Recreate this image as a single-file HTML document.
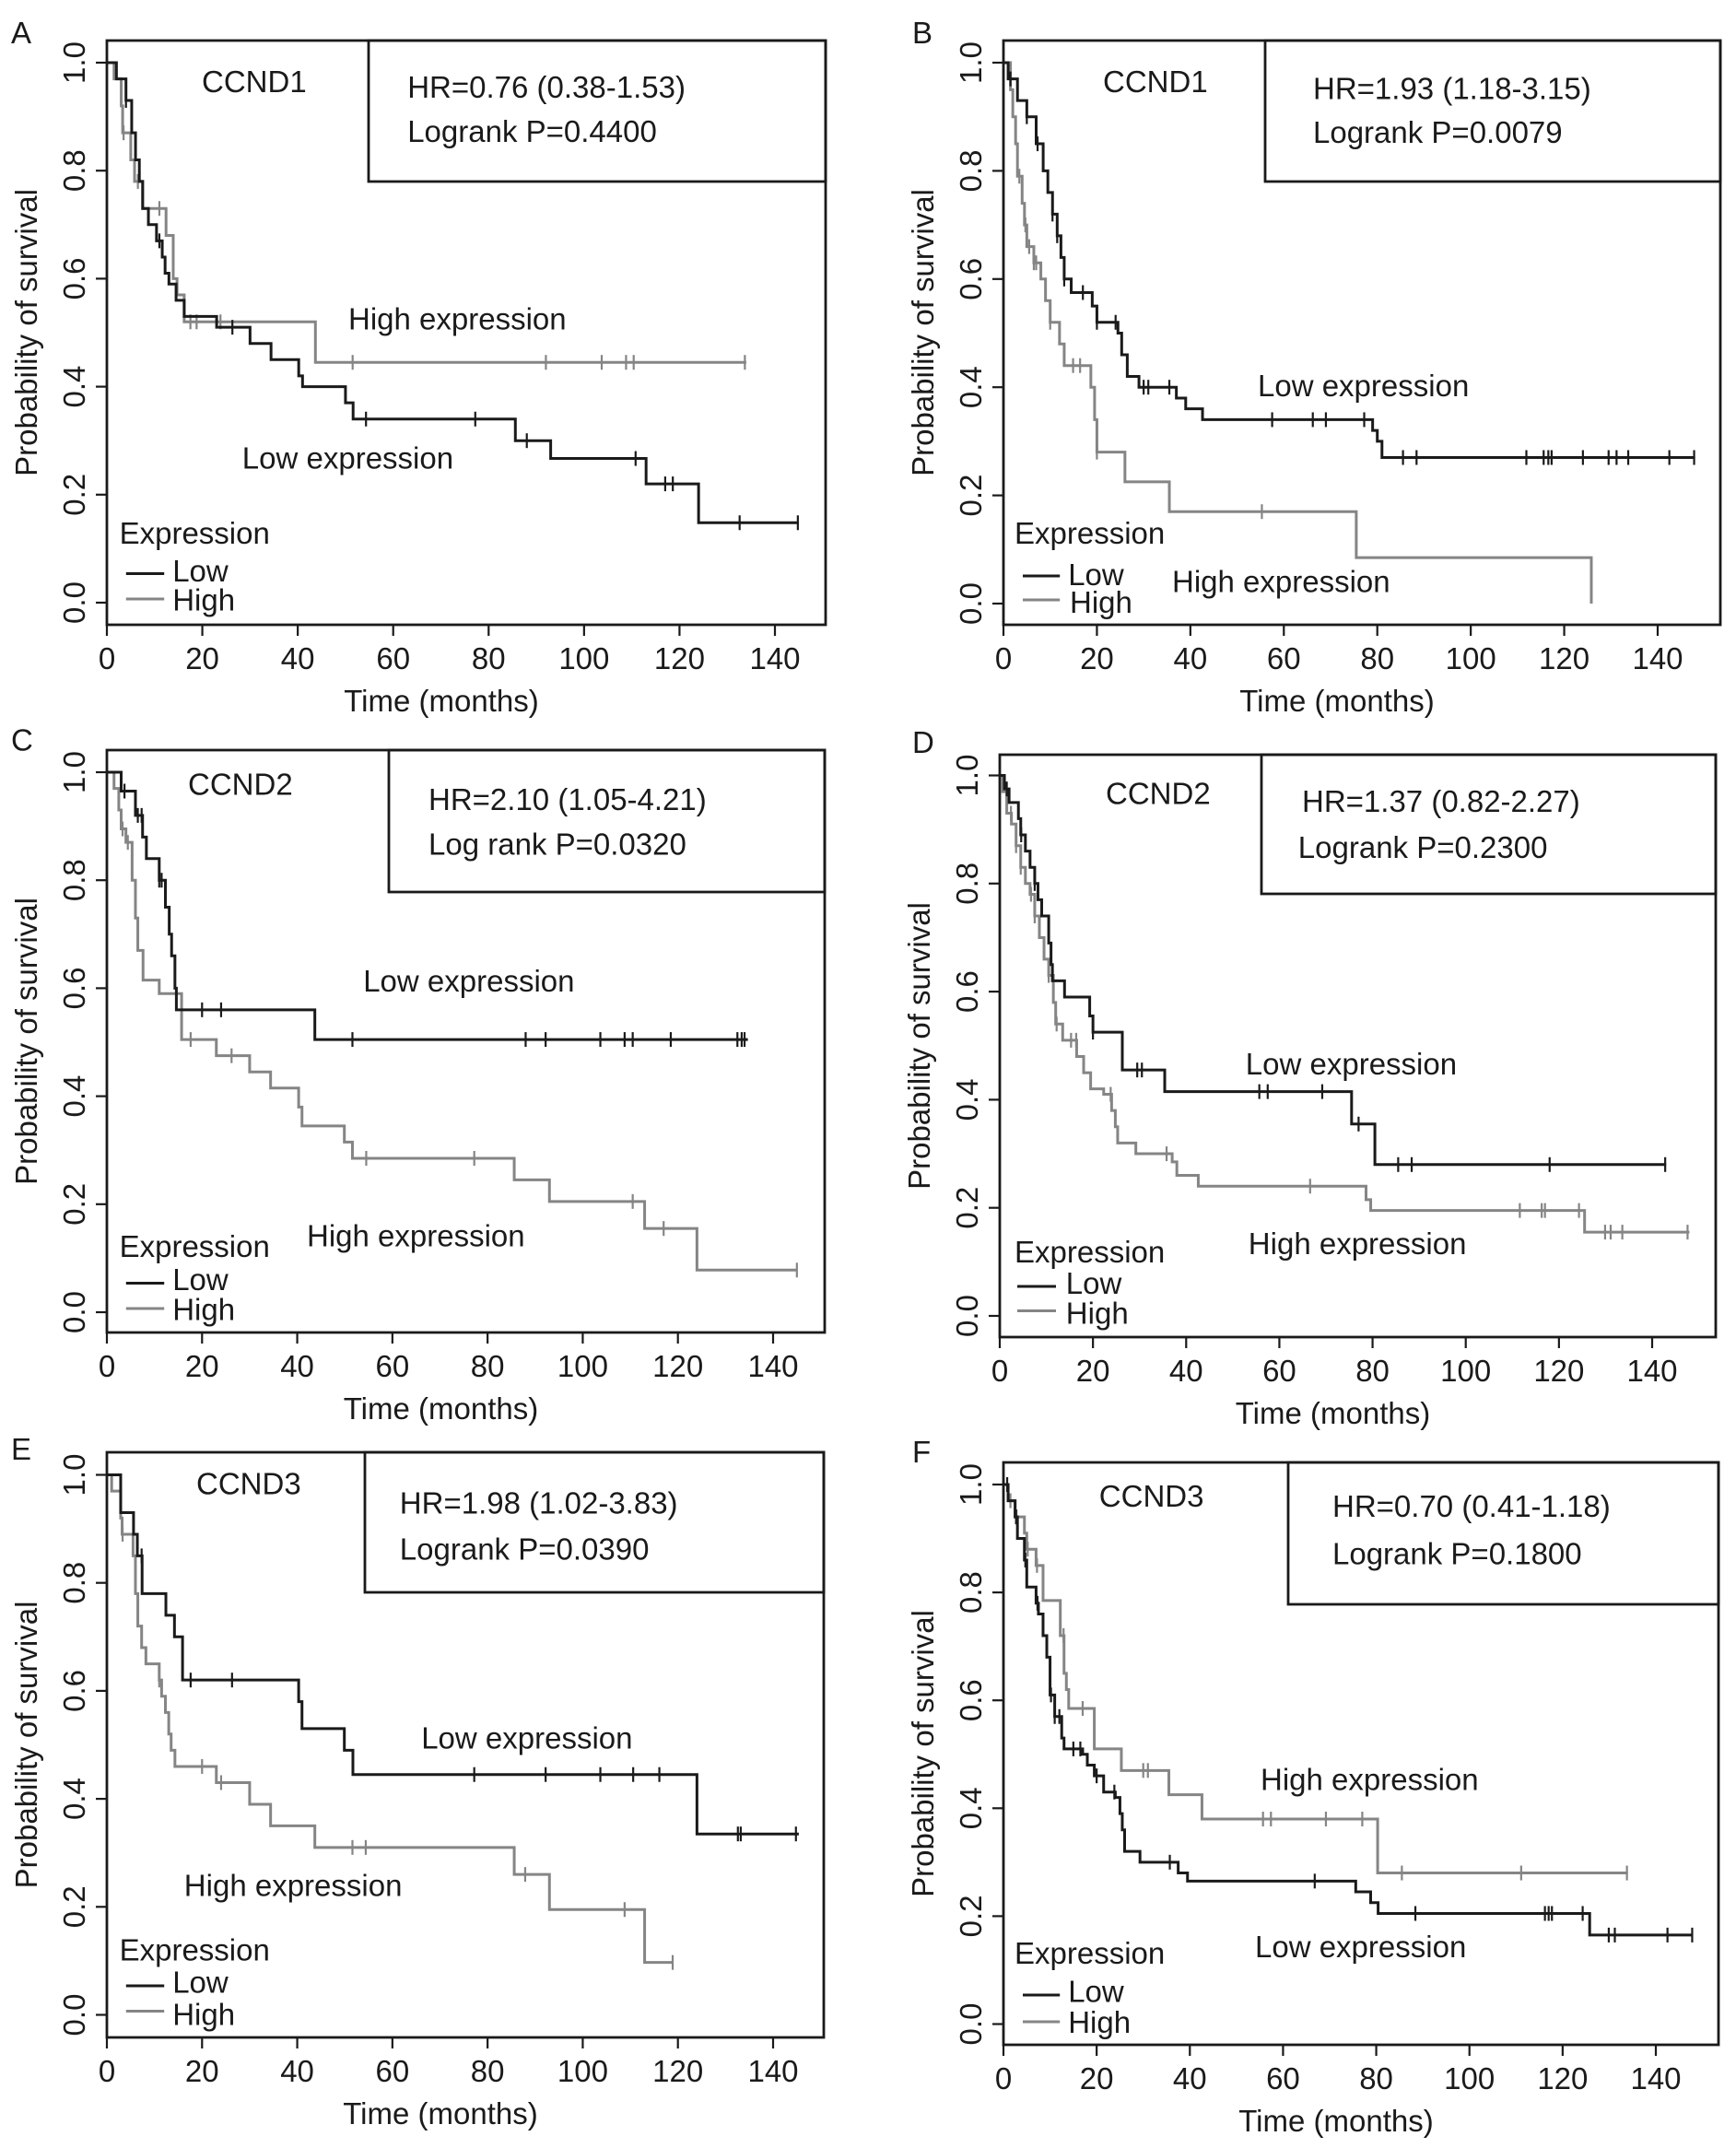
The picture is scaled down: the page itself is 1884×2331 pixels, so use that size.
<!DOCTYPE html>
<html><head><meta charset="utf-8"><style>
html,body{margin:0;padding:0;background:#fff}
svg{display:block}
text{font-family:"Liberation Sans",Arial,sans-serif;font-size:33px;fill:#1a1a1a}
</style></head><body>
<svg id="fig" width="1884" height="2331" viewBox="0 0 1884 2331" xmlns="http://www.w3.org/2000/svg"></svg>
<script>
const xTicks=[0,20,40,60,80,100,120,140];
const yTicks=[0,0.2,0.4,0.6,0.8,1.0];
// Panel A
const aLowTimes=[2,4,5.2,6,6.8,7.5,8.7,10.4,11.6,12.2,13,14.5,16.2,23,30,34.4,40.2,41,50,51.6,85.6,93,113,124];
const aLowSurv=[0.97,0.93,0.87,0.82,0.78,0.73,0.70,0.67,0.64,0.61,0.59,0.56,0.53,0.51,0.48,0.45,0.42,0.40,0.37,0.34,0.30,0.267,0.22,0.148];
const aLowCens=[4,11,26.3,54.3,77.2,88,110.8,117,118.6,132.6,144.8];
const aHighTimes=[1.5,3,3.3,5,5.8,7.5,12.4,13.9,14.7,16.2,43.7];
const aHighSurv=[0.97,0.92,0.87,0.82,0.78,0.73,0.68,0.60,0.57,0.52,0.445];
const aHighCens=[3.5,6.5,11,17.5,18.8,23.8,51.5,92,103.7,108.8,110.4,133.7];
// Panel B
const bLowTimes=[1,3,5,7,8.5,9.5,10.5,11.5,12.3,13,14.5,19,20,24.5,25.3,26.5,29,37,39,42.6,79,80,81];
const bLowSurv=[0.97,0.93,0.90,0.85,0.80,0.76,0.72,0.68,0.64,0.60,0.575,0.55,0.52,0.50,0.46,0.42,0.40,0.38,0.36,0.34,0.32,0.30,0.27];
const bLowCens=[1.5,5,7.3,10.5,11.5,13,17,20,24,30,31,35.5,57.5,66.2,69,77.2,85.5,88.4,111.9,115.6,116.6,117.3,124,129.5,131.2,133.7,142.5,147.8];
const bHighTimes=[1.5,2,2.6,3,4,4.5,5,6.5,8,9,10,12,13,18.7,19.5,20,26,35.5,75.5,125.8];
const bHighSurv=[0.95,0.90,0.85,0.79,0.74,0.70,0.66,0.63,0.60,0.56,0.52,0.48,0.44,0.40,0.34,0.28,0.225,0.17,0.085,0.0];
const bHighCens=[3.4,4.7,5.5,6.5,7,10,14.9,16.4,20,55.3];
// Panel C
const cLowTimes=[3,6,7.5,8.3,11,12.3,13.1,13.6,14.3,14.6,43.7];
const cLowSurv=[0.965,0.92,0.88,0.84,0.80,0.75,0.70,0.66,0.60,0.56,0.505];
const cLowCens=[3.7,6.5,7.3,11,11.5,20,24,51.6,88,92.2,103.7,108.8,110.5,118.5,132.5,133.4,134];
const cHighTimes=[1.5,2.5,3,4,5.3,6,6.5,7.6,11,15.7,23,30,34.4,40.3,41,49.9,51.6,85.6,93,113,124];
const cHighSurv=[0.97,0.93,0.895,0.87,0.80,0.73,0.67,0.615,0.59,0.505,0.475,0.445,0.415,0.38,0.345,0.315,0.285,0.245,0.205,0.155,0.078];
const cHighCens=[3.3,4.4,17.6,26.2,54.5,77.2,110.5,117,145];
// Panel D
const dLowTimes=[1,2,4,4.5,5.5,6.5,7.5,8.2,9,10.5,11,11.3,13.9,19.3,20,26.3,35.4,75.5,80.5];
const dLowSurv=[0.975,0.95,0.92,0.89,0.86,0.83,0.80,0.77,0.74,0.69,0.65,0.62,0.59,0.555,0.525,0.455,0.415,0.355,0.28];
const dLowCens=[1.5,4.6,7.5,20,29.5,30.5,55.7,57.5,69.2,77,85.5,88.4,118,142.8];
const dHighTimes=[0.5,1.5,2.5,3.5,4.5,5.5,6.5,7.5,8.5,9.5,10.5,11.5,12,13.5,16.5,18,19.5,22.3,24,24.8,25.3,29.2,37,38,42.6,78.6,79.6,125.5];
const dHighSurv=[0.97,0.93,0.91,0.87,0.83,0.80,0.78,0.74,0.70,0.66,0.63,0.58,0.54,0.51,0.48,0.45,0.42,0.41,0.38,0.35,0.32,0.30,0.285,0.26,0.24,0.215,0.195,0.155];
const dHighCens=[2.4,3.5,4.5,6.7,7.5,10.5,12.2,15.3,16.4,23.8,35.8,66.6,111.6,116.3,117,124.3,129.9,131.1,133.6,147.6];
// Panel E
const eLowTimes=[2.9,5.6,6.4,7.4,12.4,14.2,15.9,40.3,41,49.9,51.7,124];
const eLowSurv=[0.93,0.89,0.85,0.78,0.74,0.70,0.62,0.58,0.53,0.49,0.445,0.335];
const eLowCens=[7.3,17.6,26.3,77.2,92.2,103.7,110.6,116.1,132.6,133.2,144.8];
const eHighTimes=[1,2.9,3.2,5.5,6,6.5,7.3,8.2,11,11.5,12.3,13,13.5,14.3,23,30,34.4,43.7,85.6,93,113];
const eHighSurv=[0.97,0.92,0.89,0.85,0.78,0.72,0.68,0.65,0.62,0.59,0.56,0.52,0.49,0.46,0.43,0.39,0.35,0.31,0.26,0.195,0.097];
const eHighCens=[3.3,11,20,24,51.6,54.4,87.9,108.8,118.9];
// Panel F
const fLowTimes=[1,2.5,3,4.5,5,7,7.5,8.5,9.3,10,11,12.5,13,17,18,19.5,21.5,24,25,25.5,26,29.3,37.5,39.5,75.6,78.8,80.4,125.8];
const fLowSurv=[0.97,0.94,0.90,0.86,0.81,0.78,0.76,0.72,0.68,0.61,0.57,0.53,0.51,0.50,0.48,0.46,0.43,0.42,0.39,0.36,0.32,0.30,0.28,0.265,0.245,0.225,0.205,0.165];
const fLowCens=[0.8,2.7,4.7,7.3,10.2,11,12,15,16.5,20,23.8,35.7,66.8,88.4,116.2,117,117.7,124.3,129.9,131.2,142.5,147.8];
const fHighTimes=[1,2.5,4.5,5,7,8.5,12.2,13,13.5,14,19.5,25.3,35.5,42.6,80.3];
const fHighSurv=[0.97,0.94,0.91,0.88,0.85,0.785,0.72,0.65,0.62,0.585,0.51,0.47,0.425,0.38,0.28];
const fHighCens=[1.5,2.8,5.2,7.2,12.9,17,30,31,55.7,57.4,69.2,77,85.5,111.1,133.8];
const lowEnds=[145,148,134.7,143,145.4,148];
const highEnds=[134,125.8,145,148,119,134];

const NS='http://www.w3.org/2000/svg';
const svg=document.getElementById('fig');
const LOW='#1a1a1a', HIGH='#858585';
function mk(tag,attrs,parent){const e=document.createElementNS(NS,tag);for(const k in attrs)e.setAttribute(k,attrs[k]);(parent||svg).appendChild(e);return e;}
function txt(s,x,y,parent,extra){const t=mk('text',Object.assign({x:x,y:y},extra||{}),parent);t.textContent=s;return t;}

const panels=[
 {id:'a',letter:'A',gene:'CCND1',hr:'HR=0.76 (0.38-1.53)',p:'Logrank P=0.4400',ox:0,oy:0,box:[116,44,896,678],x0:116,x140:841,y1:68,y0:654,leg:[400,197],
  gz:[365,200],hrz:[737,212],pz:[737,308],hiz:[630,715],loz:[438,1017],exz:[216,1180],lowz:[312,1262],highz:[312,1325],lnz:[228,297,1245,1300],letz:[20,70],lowT:aLowTimes,lowS:aLowSurv,lowC:aLowCens,highT:aHighTimes,highS:aHighSurv,highC:aHighCens},
 {id:'b',letter:'B',gene:'CCND1',hr:'HR=1.93 (1.18-3.15)',p:'Logrank P=0.0079',ox:942,oy:0,box:[1089,44,1867,678],x0:1089,x140:1799,y1:68,y0:655,leg:[1373,197],
  gz:[425,200],hrz:[805,215],pz:[805,310],hiz:[550,1285],loz:[705,860],exz:[265,1180],lowz:[362,1270],highz:[365,1330],lnz:[280,347,1250,1302],letz:[80,70],lowT:bLowTimes,lowS:bLowSurv,lowC:bLowCens,highT:bHighTimes,highS:bHighSurv,highC:bHighCens},
 {id:'c',letter:'C',gene:'CCND2',hr:'HR=2.10 (1.05-4.21)',p:'Log rank P=0.0320',ox:0,oy:770,box:[116,814,895,1446],x0:116,x140:839,y1:838,y0:1424,leg:[422,968],
  gz:[340,185],hrz:[775,218],pz:[775,315],hiz:[555,1165],loz:[657,612],exz:[216,1188],lowz:[312,1260],highz:[312,1325],lnz:[228,297,1245,1300],letz:[20,65],lowT:cLowTimes,lowS:cLowSurv,lowC:cLowCens,highT:cHighTimes,highS:cHighSurv,highC:cHighCens},
 {id:'d',letter:'D',gene:'CCND2',hr:'HR=1.37 (0.82-2.27)',p:'Logrank P=0.2300',ox:942,oy:770,box:[1085,819,1862,1451],x0:1085,x140:1793,y1:841.5,y0:1428,leg:[1369,970],
  gz:[430,205],hrz:[785,222],pz:[778,322],hiz:[688,1182],loz:[683,792],exz:[265,1200],lowz:[358,1268],highz:[358,1333],lnz:[270,340,1252,1305],letz:[80,70],lowT:dLowTimes,lowS:dLowSurv,lowC:dLowCens,highT:dHighTimes,highS:dHighSurv,highC:dHighCens},
 {id:'e',letter:'E',gene:'CCND3',hr:'HR=1.98 (1.02-3.83)',p:'Logrank P=0.0390',ox:0,oy:1550,box:[116,1576,894,2211],x0:116,x140:839,y1:1600.5,y0:2186.5,leg:[396,1728],
  gz:[355,143],hrz:[723,185],pz:[723,285],hiz:[333,1015],loz:[762,695],exz:[216,1155],lowz:[312,1225],highz:[312,1295],lnz:[228,297,1210,1265],letz:[20,44],lowT:eLowTimes,lowS:eLowSurv,lowC:eLowCens,highT:eHighTimes,highS:eHighSurv,highC:eHighCens},
 {id:'f',letter:'F',gene:'CCND3',hr:'HR=0.70 (0.41-1.18)',p:'Logrank P=0.1800',ox:942,oy:1550,box:[1089,1587,1865,2219],x0:1089,x140:1797,y1:1611,y0:2196.5,leg:[1398,1741],
  gz:[418,170],hrz:[840,192],pz:[840,295],hiz:[710,785],loz:[700,1148],exz:[265,1162],lowz:[362,1245],highz:[362,1312],lnz:[280,347,1230,1288],letz:[80,50],lowT:fLowTimes,lowS:fLowSurv,lowC:fLowCens,highT:fHighTimes,highS:fHighSurv,highC:fHighCens}
];

function survAt(T,S,t){let s=1;for(let i=0;i<T.length;i++){if(T[i]<=t)s=S[i];}return s;}

panels.forEach((P,pi)=>{
 const g=mk('g',{});
 
 
 const ZX=z=>P.ox+z*0.6, ZY=z=>P.oy+z*0.5;
 const X=t=>P.x0+(P.x140-P.x0)*t/140, Y=s=>P.y0+(P.y1-P.y0)*s;
 const [L,T,R,B]=P.box;
 const lt=txt(P.letter,ZX(P.letz[0]),ZY(P.letz[1])+12,g);
 
 
 const fr=mk('rect',{x:L,y:T,width:R-L,height:B-T,fill:'none',stroke:'#1a1a1a','stroke-width':2.8},g);
 
 
 const lb=mk('rect',{x:P.leg[0],y:T,width:R-P.leg[0],height:P.leg[1]-T,fill:'none',stroke:'#1a1a1a','stroke-width':2.8},g);
 
 
 xTicks.forEach(v=>{
  const tk=mk('line',{x1:X(v),x2:X(v),y1:B,y2:B+12,stroke:'#1a1a1a','stroke-width':2.2},g);
  
  
  const tl=txt(String(v),X(v),B+48,g,{'text-anchor':'middle'});
  
  
 });
 yTicks.forEach(v=>{
  const tk=mk('line',{x1:L-12,x2:L,y1:Y(v),y2:Y(v),stroke:'#1a1a1a','stroke-width':2.2},g);
  
  
  const cx=L-24;
  const tl=txt(v.toFixed(1),cx,Y(v),g,{'text-anchor':'middle',transform:'rotate(-90 '+cx+' '+Y(v)+')'});
  
  
 });
 const xt=txt('Time (months)',(L+R)/2-27,B+94,g,{'text-anchor':'middle'});
 
 
 const yx=L-76, yy=(T+B)/2;
 const yt=txt('Probability of survival',yx,yy,g,{'text-anchor':'middle',transform:'rotate(-90 '+yx+' '+yy+')'});
 
 
 const gn=txt(P.gene,ZX(P.gz[0]),ZY(P.gz[1]),g);
 
 
 const hr=txt(P.hr,ZX(P.hrz[0]),ZY(P.hrz[1]),g);
 
 
 const pv=txt(P.p,ZX(P.pz[0]),ZY(P.pz[1]),g);
 
 
 const hi=txt('High expression',ZX(P.hiz[0]),ZY(P.hiz[1]),g);
 
 
 const lo=txt('Low expression',ZX(P.loz[0]),ZY(P.loz[1]),g);
 
 
 const ex=txt('Expression',ZX(P.exz[0]),ZY(P.exz[1]),g);
 
 
 const ll=mk('line',{x1:ZX(P.lnz[0]),x2:ZX(P.lnz[1]),y1:ZY(P.lnz[2]),y2:ZY(P.lnz[2]),stroke:LOW,'stroke-width':3},g);
 
 
 const lw=txt('Low',ZX(P.lowz[0]),ZY(P.lowz[1]),g);
 
 
 const hl=mk('line',{x1:ZX(P.lnz[0]),x2:ZX(P.lnz[1]),y1:ZY(P.lnz[3]),y2:ZY(P.lnz[3]),stroke:HIGH,'stroke-width':3},g);
 
 
 const hw=txt('High',ZX(P.highz[0]),ZY(P.highz[1]),g);
 
 
 function curve(Ts,Ss,end,cens,col,name){
  let d='M'+X(0)+' '+Y(1);
  for(let i=0;i<Ts.length;i++){d+=' H'+X(Ts[i])+' V'+Y(Ss[i]);}
  d+=' H'+X(end);
  const p=mk('path',{d:d,fill:'none',stroke:col,'stroke-width':3},g);
  
  
  cens.forEach(c=>{
   const v=survAt(Ts,Ss,c);
   const m=mk('line',{x1:X(c),x2:X(c),y1:Y(v)-8,y2:Y(v)+8,stroke:col,'stroke-width':2.2},g);
   
   
  });
 }
 curve(P.highT,P.highS,highEnds[pi],P.highC,HIGH,'high-expression');
 curve(P.lowT,P.lowS,lowEnds[pi],P.lowC,LOW,'low-expression');
});
</script>
</body></html>
